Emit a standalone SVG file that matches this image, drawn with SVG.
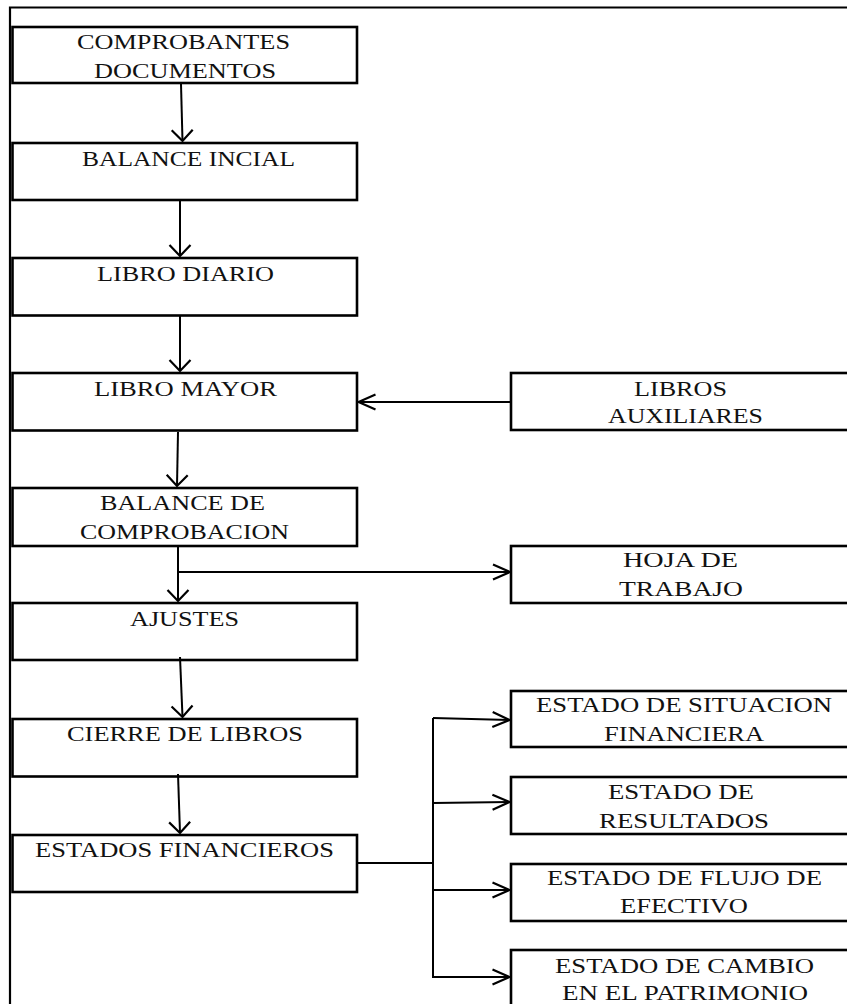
<svg xmlns="http://www.w3.org/2000/svg" width="847" height="1004" viewBox="0 0 847 1004">
<style>
.box{fill:#fff;stroke:#000;stroke-width:2.6}
.t{font-family:"Liberation Serif","Times New Roman",serif;font-size:21px;fill:#111}
.ln{stroke:#000;stroke-width:2;fill:none}
.frame{stroke:#000;stroke-width:2.2;fill:none}
</style>
<defs>
<marker id="mv" markerUnits="userSpaceOnUse" viewBox="-13 -13 15 26" markerWidth="15" markerHeight="26" refX="0" refY="0" orient="auto">
<path d="M-11,-10.5 L0,0 L-11,10.5" fill="none" stroke="#000" stroke-width="2.2"/>
</marker>
<marker id="mh" markerUnits="userSpaceOnUse" viewBox="-19 -10 21 20" markerWidth="21" markerHeight="20" refX="0" refY="0" orient="auto">
<path d="M-17,-7.5 L0,0 L-17,7.5" fill="none" stroke="#000" stroke-width="2.2"/>
</marker>
</defs>
<rect width="847" height="1004" fill="#fff"/>
<g id="frame">
<path class="frame" d="M10,1004 V7.5 H847"/>
</g>
<g id="n1"><rect class="box" x="12.5" y="27" width="344.5" height="56"/>
<text class="t" x="77" y="48.5" textLength="213" lengthAdjust="spacingAndGlyphs">COMPROBANTES</text>
<text class="t" x="94" y="77.5" textLength="182" lengthAdjust="spacingAndGlyphs">DOCUMENTOS</text></g>
<g id="n2"><rect class="box" x="12.5" y="143" width="344.5" height="57"/>
<text class="t" x="82" y="166" textLength="213" lengthAdjust="spacingAndGlyphs">BALANCE INCIAL</text></g>
<g id="n3"><rect class="box" x="12.5" y="258" width="344.5" height="57.5"/>
<text class="t" x="97" y="280.5" textLength="177" lengthAdjust="spacingAndGlyphs">LIBRO DIARIO</text></g>
<g id="n4"><rect class="box" x="12.5" y="373" width="344.5" height="57.5"/>
<text class="t" x="94" y="395.5" textLength="183" lengthAdjust="spacingAndGlyphs">LIBRO MAYOR</text></g>
<g id="n5"><rect class="box" x="12.5" y="488" width="344.5" height="58"/>
<text class="t" x="100" y="510" textLength="165" lengthAdjust="spacingAndGlyphs">BALANCE DE</text>
<text class="t" x="80" y="539" textLength="209" lengthAdjust="spacingAndGlyphs">COMPROBACION</text></g>
<g id="n6"><rect class="box" x="12.5" y="603" width="344.5" height="57"/>
<text class="t" x="130" y="625.5" textLength="109" lengthAdjust="spacingAndGlyphs">AJUSTES</text></g>
<g id="n7"><rect class="box" x="12.5" y="719" width="344.5" height="57.5"/>
<text class="t" x="67" y="741" textLength="236" lengthAdjust="spacingAndGlyphs">CIERRE DE LIBROS</text></g>
<g id="n8"><rect class="box" x="12.5" y="835" width="344.5" height="57"/>
<text class="t" x="35" y="856.5" textLength="299" lengthAdjust="spacingAndGlyphs">ESTADOS FINANCIEROS</text></g>
<g id="n9"><rect class="box" x="511" y="373" width="345" height="57"/>
<text class="t" x="634" y="395.5" textLength="93" lengthAdjust="spacingAndGlyphs">LIBROS</text>
<text class="t" x="608" y="423" textLength="155" lengthAdjust="spacingAndGlyphs">AUXILIARES</text></g>
<g id="n10"><rect class="box" x="511" y="546" width="345" height="57"/>
<text class="t" x="623" y="567" textLength="115" lengthAdjust="spacingAndGlyphs">HOJA DE</text>
<text class="t" x="619" y="596" textLength="124" lengthAdjust="spacingAndGlyphs">TRABAJO</text></g>
<g id="n11"><rect class="box" x="511" y="691" width="345" height="56"/>
<text class="t" x="536" y="712" textLength="296" lengthAdjust="spacingAndGlyphs">ESTADO DE SITUACION</text>
<text class="t" x="604" y="741" textLength="160" lengthAdjust="spacingAndGlyphs">FINANCIERA</text></g>
<g id="n12"><rect class="box" x="511" y="777" width="345" height="57"/>
<text class="t" x="608" y="799" textLength="146" lengthAdjust="spacingAndGlyphs">ESTADO DE</text>
<text class="t" x="599" y="827.5" textLength="170" lengthAdjust="spacingAndGlyphs">RESULTADOS</text></g>
<g id="n13"><rect class="box" x="511" y="864" width="345" height="57"/>
<text class="t" x="547" y="885" textLength="275" lengthAdjust="spacingAndGlyphs">ESTADO DE FLUJO DE</text>
<text class="t" x="620" y="913" textLength="128" lengthAdjust="spacingAndGlyphs">EFECTIVO</text></g>
<g id="n14"><rect class="box" x="511" y="950" width="345" height="70"/>
<text class="t" x="555" y="972.5" textLength="259" lengthAdjust="spacingAndGlyphs">ESTADO DE CAMBIO</text>
<text class="t" x="562" y="999.5" textLength="246" lengthAdjust="spacingAndGlyphs">EN EL PATRIMONIO</text></g>
<g id="connectors">
<path class="ln" d="M181,84 L182.5,141" marker-end="url(#mv)"/>
<path class="ln" d="M180,201 L180,256" marker-end="url(#mv)"/>
<path class="ln" d="M180,316 L180,371" marker-end="url(#mv)"/>
<path class="ln" d="M178,432 L177,486" marker-end="url(#mv)"/>
<path class="ln" d="M178,547 L178,601" marker-end="url(#mv)"/>
<path class="ln" d="M178,572 L510,572" marker-end="url(#mh)"/>
<path class="ln" d="M180,657 L182.5,717" marker-end="url(#mv)"/>
<path class="ln" d="M178,774 L180,833" marker-end="url(#mv)"/>
<path class="ln" d="M511,402 L358.5,402" marker-end="url(#mh)"/>
<path class="ln" d="M357,863 L433,863"/>
<path class="ln" d="M433,718 L433,978" stroke-width="3"/>
<path class="ln" d="M433,718 L509.5,720" marker-end="url(#mh)"/>
<path class="ln" d="M433,803 L509.5,802" marker-end="url(#mh)"/>
<path class="ln" d="M433,890 L509.5,890" marker-end="url(#mh)"/>
<path class="ln" d="M433,977 L509.5,977" marker-end="url(#mh)"/>
</g>
</svg>
